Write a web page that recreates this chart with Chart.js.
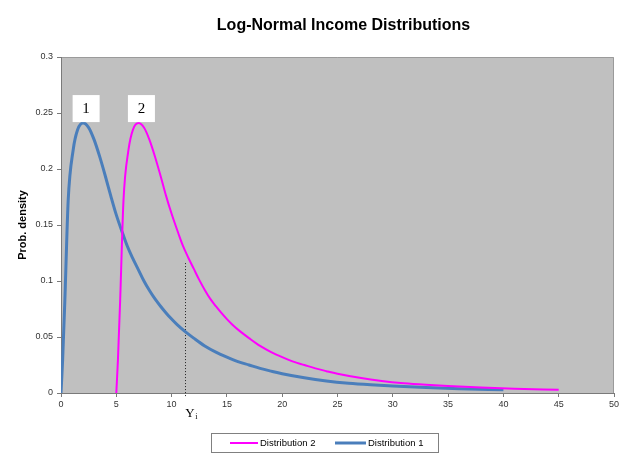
<!DOCTYPE html>
<html>
<head>
<meta charset="utf-8">
<script src="https://cdn.jsdelivr.net/npm/chart.js@4/dist/chart.umd.min.js"></script>
<style>
html,body{margin:0;padding:0;background:#fff;}
#wrap{width:623px;height:457px;position:relative;}
</style>
</head>
<body>
<div id="wrap"><canvas id="c" width="623" height="457"></canvas></div>
<script>
// ---- Data ----
const chartTitle = "Log-Normal Income Distributions";
const yAxisTitle = "Prob. density";
const seriesNames = ["Distribution 2", "Distribution 1"];
const peakLabels = ["2", "1"];

const dist1X = [0, 0.15, 0.35, 0.65, 1.1, 1.5, 2.0, 2.5, 3.0, 3.5, 4.0, 4.5, 5.0, 5.63, 6.0, 6.5, 7.0, 7.5, 8.0, 8.5, 9.0, 9.5, 10.0, 10.5, 11.2, 12.0, 13.0, 14.0, 15.0, 16.0, 17.0, 18.0, 19.0, 20.0, 22.0, 24.0, 26.0, 28.0, 30.0, 33.0, 36.0, 40.0];
const dist1Y = [0, 0.03, 0.083, 0.172, 0.217, 0.235, 0.241, 0.237, 0.226, 0.211, 0.194, 0.176, 0.159, 0.141, 0.131, 0.120, 0.110, 0.100, 0.0915, 0.084, 0.0775, 0.0715, 0.066, 0.061, 0.055, 0.049, 0.042, 0.0365, 0.032, 0.028, 0.025, 0.022, 0.0195, 0.0172, 0.0136, 0.0108, 0.0088, 0.0074, 0.0063, 0.005, 0.0039, 0.0028];

const dist2X = [5.0, 5.15, 5.35, 5.65, 6.1, 6.5, 7.0, 7.5, 8.0, 8.5, 9.0, 9.5, 10.0, 10.63, 11.0, 11.5, 12.0, 12.5, 13.0, 13.5, 14.0, 14.5, 15.0, 15.5, 16.2, 17.0, 18.0, 19.0, 20.0, 21.0, 22.0, 23.0, 24.0, 25.0, 27.0, 29.0, 31.0, 33.0, 35.0, 38.0, 41.0, 45.0];
const dist2Y = [0, 0.03, 0.083, 0.172, 0.217, 0.235, 0.241, 0.237, 0.226, 0.211, 0.194, 0.176, 0.160, 0.142, 0.132, 0.121, 0.111, 0.101, 0.092, 0.084, 0.0775, 0.0715, 0.066, 0.061, 0.055, 0.049, 0.042, 0.0365, 0.032, 0.028, 0.025, 0.022, 0.0195, 0.0172, 0.0136, 0.0108, 0.0088, 0.0074, 0.0063, 0.005, 0.0039, 0.0028];

const xTicksMin = 0, xTicksMax = 50, xStep = 5;
const yTicksMin = 0, yTicksMax = 0.3, yStep = 0.05;

// Marker line Y_i
const yiValue = 11.2;
const yiTop = 0.116;

const colorDist1 = "#4a7ebb";
const colorDist2 = "#ff00ff";

const toPts = (xs, ys) => xs.map((x, i) => ({x: x, y: ys[i]}));

const bgPlugin = {
  id: "plotBg",
  beforeDraw(chart) {
    const {ctx, chartArea: a} = chart;
    ctx.save();
    ctx.fillStyle = "#c0c0c0";
    ctx.fillRect(a.left, a.top, a.right - a.left, a.bottom - a.top);
    ctx.strokeStyle = "#9a9a9a";
    ctx.lineWidth = 1;
    ctx.beginPath();
    ctx.moveTo(a.left, a.top + 0.5);
    ctx.lineTo(a.right - 0.5, a.top + 0.5);
    ctx.lineTo(a.right - 0.5, a.bottom);
    ctx.stroke();
    ctx.restore();
  },
  beforeDatasetsDraw(chart) {
    const {ctx} = chart;
    const xs = chart.scales.x, ys = chart.scales.y;
    const px = Math.round(xs.getPixelForValue(yiValue)) + 0.5;
    ctx.save();
    ctx.strokeStyle = "#222";
    ctx.lineWidth = 1;
    ctx.setLineDash([1, 2]);
    ctx.beginPath();
    ctx.moveTo(px, ys.getPixelForValue(yiTop));
    ctx.lineTo(px, ys.getPixelForValue(0) + 4);
    ctx.stroke();
    ctx.restore();
  },
  afterDraw(chart) {
    const {ctx, chartArea: a} = chart;
    const xs = chart.scales.x, ys = chart.scales.y;
    ctx.save();
    // Title
    ctx.fillStyle = "#000";
    ctx.font = "bold 16px 'Liberation Sans', Arial, sans-serif";
    ctx.textAlign = "center";
    ctx.textBaseline = "middle";
    ctx.fillText(chartTitle, (a.left + a.right) / 2 + 6, 26);

    // Peak label boxes
    const sets = [[dist2X, dist2Y], [dist1X, dist1Y]];
    sets.forEach((s, i) => {
      let mi = 0;
      s[1].forEach((v, j) => { if (v > s[1][mi]) mi = j; });
      const cx = xs.getPixelForValue(s[0][mi]) + 3;
      const bottom = ys.getPixelForValue(s[1][mi]) - 1;
      ctx.fillStyle = "#fff";
      ctx.fillRect(cx - 13.5, bottom - 27, 27, 27);
      ctx.fillStyle = "#000";
      ctx.font = "15px 'Liberation Serif', 'Times New Roman', serif";
      ctx.textAlign = "center";
      ctx.textBaseline = "middle";
      ctx.fillText(peakLabels[i], cx, bottom - 13);
    });

    // Y_i label
    const lx = xs.getPixelForValue(yiValue);
    const by = ys.getPixelForValue(0);
    ctx.fillStyle = "#000";
    ctx.textAlign = "left";
    ctx.textBaseline = "alphabetic";
    ctx.font = "13px 'Liberation Serif', 'Times New Roman', serif";
    ctx.fillText("Y", lx + 0.5, by + 24);
    const w = ctx.measureText("Y").width;
    ctx.font = "8px 'Liberation Serif', 'Times New Roman', serif";
    ctx.fillText("i", lx + 0.5 + w + 0.5, by + 26);

    // Legend
    const L = 211, T = 433, W = 227, H = 19;
    ctx.fillStyle = "#fff";
    ctx.fillRect(L, T, W, H);
    ctx.strokeStyle = "#808080";
    ctx.lineWidth = 1;
    ctx.strokeRect(L + 0.5, T + 0.5, W, H);
    const my = T + H / 2 + 0.5;
    ctx.font = "9.5px 'Liberation Sans', Arial, sans-serif";
    ctx.textBaseline = "middle";
    ctx.textAlign = "left";
    ctx.strokeStyle = colorDist2; ctx.lineWidth = 2;
    ctx.beginPath(); ctx.moveTo(230, my); ctx.lineTo(258, my); ctx.stroke();
    ctx.fillStyle = "#000";
    ctx.fillText(seriesNames[0], 260, my);
    ctx.strokeStyle = colorDist1; ctx.lineWidth = 3;
    ctx.beginPath(); ctx.moveTo(335, my); ctx.lineTo(366, my); ctx.stroke();
    ctx.fillText(seriesNames[1], 368, my);
    ctx.restore();
  }
};

new Chart(document.getElementById("c"), {
  type: "line",
  data: {
    datasets: [
      {
        label: seriesNames[0],
        data: toPts(dist2X, dist2Y),
        borderColor: colorDist2,
        backgroundColor: colorDist2,
        borderWidth: 2,
        pointRadius: 0,
        fill: false,
        cubicInterpolationMode: "monotone"
      },
      {
        label: seriesNames[1],
        data: toPts(dist1X, dist1Y),
        borderColor: colorDist1,
        backgroundColor: colorDist1,
        borderWidth: 3,
        pointRadius: 0,
        fill: false,
        cubicInterpolationMode: "monotone"
      }
    ]
  },
  options: {
    responsive: false,
    animation: false,
    layout: {padding: {left: 0, right: 9, top: 57, bottom: 0}},
    plugins: {
      legend: {display: false},
      title: {display: false},
      tooltip: {enabled: false}
    },
    scales: {
      x: {
        type: "linear",
        min: xTicksMin, max: xTicksMax,
        afterFit(s) { s.height = 64; },
        ticks: {
          stepSize: xStep,
          color: "#333",
          font: {family: "'Liberation Sans', Arial, sans-serif", size: 9},
          padding: 2,
          maxRotation: 0
        },
        grid: {drawOnChartArea: false, tickLength: 4, color: "#7a7a7a"},
        border: {color: "#7a7a7a", width: 1}
      },
      y: {
        min: yTicksMin, max: yTicksMax,
        afterFit(s) { s.width = 61; },
        ticks: {
          stepSize: yStep,
          color: "#333",
          font: {family: "'Liberation Sans', Arial, sans-serif", size: 9},
          padding: 4,
          callback: (v) => String(parseFloat(Number(v).toFixed(2)))
        },
        grid: {drawOnChartArea: false, tickLength: 4, color: "#7a7a7a"},
        border: {color: "#7a7a7a", width: 1},
        title: {
          display: true,
          text: yAxisTitle,
          color: "#000",
          font: {family: "'Liberation Sans', Arial, sans-serif", size: 11, weight: "bold"},
          padding: {top: 16, bottom: 0}
        }
      }
    }
  },
  plugins: [bgPlugin]
});
</script>
</body>
</html>
